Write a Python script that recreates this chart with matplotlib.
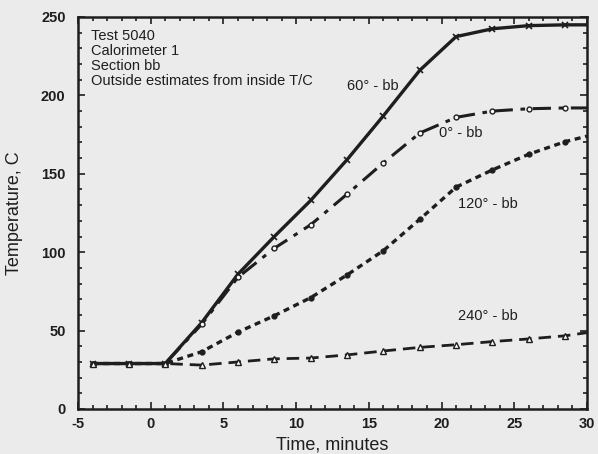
import matplotlib
matplotlib.use("Agg")
import matplotlib.pyplot as plt
from matplotlib.ticker import MultipleLocator

# ---- data ----
time_min = [-4, -1.5, 1, 3.5, 6, 8.5, 11, 13.5, 16, 18.5, 21, 23.5, 26, 28.5, 30]
temp_60 = [29, 29, 29, 55, 86, 110, 133, 159, 187, 216, 237.5, 242.5, 244.5, 245, 245]
temp_0 = [29, 29, 29, 54, 84, 102.5, 117.5, 137, 157, 176, 186, 190, 191.5, 192, 192]
temp_120 = [29, 29, 29, 36.5, 49, 59.5, 71, 85.5, 101, 121, 141.5, 152.5, 162.5, 170.5, 174]
temp_240 = [29, 29, 29, 28, 30, 32, 32.5, 34.5, 37, 39.3, 41, 43, 44.7, 46.7, 48.7]

series_labels = ["60° - bb", "0° - bb", "120° - bb", "240° - bb"]
label_pos = [(13.5, 206), (19.8, 176), (21.1, 131), (21.1, 59)]
info_lines = ["Test 5040", "Calorimeter 1", "Section bb", "Outside estimates from inside T/C"]
x_ticks = [-5, 0, 5, 10, 15, 20, 25, 30]
y_ticks = [0, 50, 100, 150, 200, 250]

bg = "#ebebeb"
ink = "#1e1e1e"
plt.rcParams['font.family'] = ['Liberation Sans', 'DejaVu Sans']
plt.rcParams['axes.unicode_minus'] = False

fig = plt.figure(figsize=(5.98, 4.54), dpi=100, facecolor=bg)
ax = fig.add_axes([78/598, 1-409/454, (587-78)/598, (409-17)/454])
ax.set_facecolor(bg)

mk = list(range(len(time_min) - 1))
ax.plot(time_min, temp_60, color=ink, lw=2.4, ls='-', marker='x', ms=5, mew=1.2, markevery=mk)
ax.plot(time_min, temp_0, color=ink, lw=2.2, dashes=(6, 2.5, 1.5, 2.5), marker='o', ms=3.5,
        mfc='white', mec=ink, mew=1.0, markevery=mk)
ax.plot(time_min, temp_120, color=ink, lw=2.4, dashes=(1.8, 1.4), marker='o', ms=3.5,
        mfc=ink, mec=ink, markevery=mk)
ax.plot(time_min, temp_240, color=ink, lw=2.0, dashes=(4.5, 2.5), marker='^', ms=4,
        mfc='white', mec=ink, mew=1.0, markevery=mk)

for lab, (x, y) in zip(series_labels, label_pos):
    ax.text(x, y, lab, fontsize=10.5, color=ink, va='center', ha='left')

for i, line in enumerate(info_lines):
    ax.text(0.025, 0.952 - i*0.0385, line, transform=ax.transAxes, fontsize=10.5,
            color=ink, va='center', ha='left')

ax.set_xlim(-5, 30)
ax.set_ylim(0, 250)
ax.set_xticks(x_ticks)
ax.set_yticks(y_ticks)
ax.xaxis.set_minor_locator(MultipleLocator(1))
ax.yaxis.set_minor_locator(MultipleLocator(10))
ax.tick_params(which='both', direction='in', top=True, right=True, color=ink, width=1.2)
ax.tick_params(which='major', length=5, labelsize=10.5, labelcolor=ink, pad=6)
ax.tick_params(axis='y', which='major', pad=9)
ax.tick_params(which='minor', length=3)
for lab in ax.get_xticklabels() + ax.get_yticklabels():
    lab.set_fontweight('bold')
for s in ax.spines.values():
    s.set_linewidth(1.8)
    s.set_color(ink)

ax.set_xlabel("Time, minutes", fontsize=13, color=ink, labelpad=4)
ax.set_ylabel("Temperature, C", fontsize=13, color=ink, labelpad=13)

fig.savefig("out.png", dpi=100, facecolor=bg)
